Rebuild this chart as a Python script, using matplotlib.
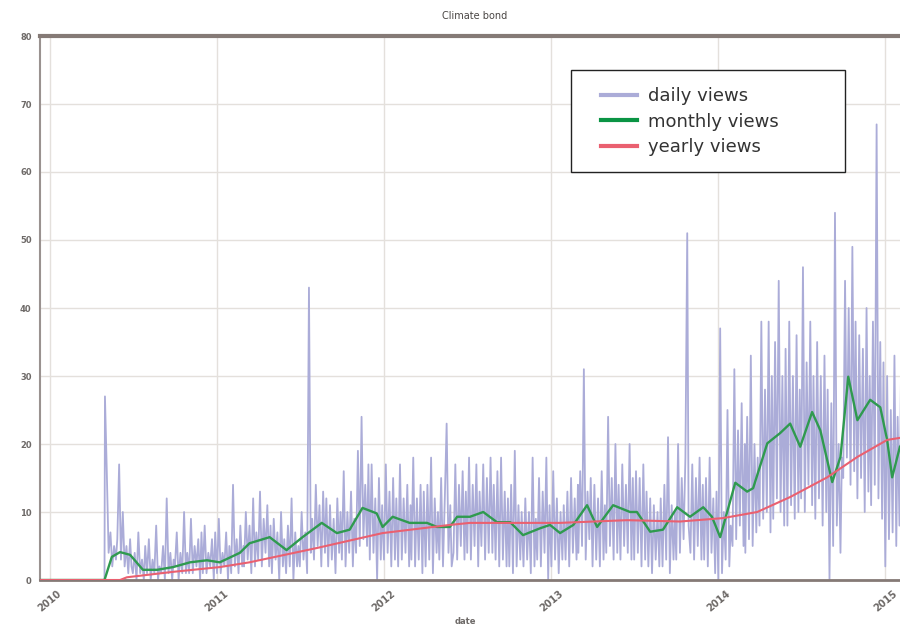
import matplotlib
matplotlib.use("Agg")
import matplotlib.pyplot as plt
import matplotlib.patches as mpatches
import pandas as pd

# ---------------- data ----------------
title = "Climate bond"
x_label = "date"
series_labels = ["daily views", "monthly views", "yearly views"]
year_ticks = ["2010", "2011", "2012", "2013", "2014", "2015"]
y_ticks = [0, 10, 20, 30, 40, 50, 60, 70, 80]

lead_in_dates = ["2009-12-10", "2010-04-30"]
lead_in_values = [0, 0]

sample_days = [1, 5, 9, 13, 17, 21, 25, 28]

daily_2010 = [  # May .. Dec
    [27, 16, 4, 7, 2, 5, 3, 6],
    [17, 3, 10, 2, 5, 1, 6, 2],
    [1, 4, 0, 7, 1, 3, 0, 5],
    [1, 6, 0, 3, 1, 8, 0, 2],
    [1, 5, 0, 12, 1, 4, 0, 3],
    [2, 7, 0, 4, 1, 10, 1, 4],
    [1, 9, 1, 5, 2, 6, 0, 7],
    [1, 8, 1, 4, 2, 6, 0, 7],
]
daily_2011 = [
    [1, 9, 1, 4, 2, 7, 0, 5],
    [1, 14, 2, 6, 1, 8, 2, 5],
    [2, 10, 3, 8, 1, 12, 2, 7],
    [3, 13, 2, 9, 4, 11, 2, 8],
    [1, 9, 3, 7, 0, 10, 2, 6],
    [1, 8, 2, 12, 0, 7, 2, 5],
    [2, 10, 3, 7, 1, 43, 4, 9],
    [3, 14, 5, 11, 2, 13, 4, 12],
    [2, 11, 3, 9, 1, 12, 4, 10],
    [3, 16, 2, 10, 4, 13, 2, 9],
    [4, 19, 5, 24, 6, 14, 5, 17],
    [3, 17, 4, 12, 0, 15, 3, 11],
]
daily_2012 = [
    [3, 17, 4, 13, 2, 15, 3, 12],
    [2, 17, 3, 12, 4, 14, 2, 11],
    [3, 18, 2, 12, 3, 14, 1, 13],
    [2, 14, 3, 18, 1, 12, 4, 10],
    [3, 15, 2, 12, 23, 4, 11, 2],
    [4, 17, 3, 14, 5, 16, 3, 13],
    [4, 18, 3, 14, 5, 17, 2, 13],
    [5, 17, 3, 15, 4, 18, 4, 14],
    [3, 16, 2, 18, 3, 13, 2, 12],
    [2, 14, 1, 19, 2, 11, 3, 10],
    [2, 12, 3, 10, 1, 18, 2, 9],
    [3, 15, 2, 13, 4, 18, 0, 11],
]
daily_2013 = [
    [2, 16, 3, 12, 1, 10, 3, 11],
    [3, 13, 2, 15, 4, 12, 3, 14],
    [4, 16, 5, 31, 3, 13, 6, 15],
    [2, 14, 3, 12, 2, 16, 3, 11],
    [4, 24, 5, 15, 3, 20, 4, 14],
    [3, 17, 5, 14, 4, 20, 3, 15],
    [3, 16, 4, 15, 2, 17, 3, 13],
    [2, 12, 1, 11, 3, 10, 2, 12],
    [2, 14, 3, 21, 1, 11, 3, 10],
    [3, 20, 4, 15, 6, 18, 51, 8],
    [4, 17, 3, 15, 5, 18, 3, 14],
    [3, 15, 2, 18, 4, 12, 1, 13],
]
daily_2014 = [
    [0, 37, 1, 10, 3, 25, 2, 8],
    [5, 31, 6, 22, 8, 26, 5, 20],
    [4, 24, 6, 33, 5, 20, 7, 18],
    [8, 38, 9, 28, 10, 38, 7, 30],
    [9, 35, 12, 44, 10, 30, 8, 34],
    [8, 38, 11, 30, 9, 36, 10, 28],
    [12, 46, 10, 32, 14, 38, 11, 30],
    [9, 35, 12, 30, 8, 33, 10, 28],
    [0, 26, 5, 54, 8, 20, 4, 18],
    [15, 44, 18, 40, 14, 49, 16, 38],
    [12, 36, 15, 34, 10, 40, 13, 30],
    [11, 38, 14, 67, 12, 35, 9, 32],
]
daily_2015 = [
    [2, 30, 6, 25, 7, 33, 5, 24],
    [8, 35, 10, 30],
]

monthly_dates = [
    "2009-12-10", "2010-04-30", "2010-05-16", "2010-06-03", "2010-06-25",
    "2010-07-23", "2010-08-23", "2010-09-27", "2010-11-03", "2010-12-10",
    "2011-01-07", "2011-02-20", "2011-03-13", "2011-04-26", "2011-06-02",
    "2011-07-07", "2011-08-18", "2011-09-20", "2011-10-18", "2011-11-15",
    "2011-12-16", "2011-12-29", "2012-01-20", "2012-02-26", "2012-04-04",
    "2012-04-26", "2012-05-24", "2012-06-09", "2012-07-07", "2012-08-05",
    "2012-09-04", "2012-10-03", "2012-10-31", "2012-12-07", "2012-12-29",
    "2013-01-20", "2013-02-18", "2013-03-20", "2013-04-11", "2013-05-16",
    "2013-06-22", "2013-07-07", "2013-08-05", "2013-09-02", "2013-10-03",
    "2013-10-31", "2013-11-29", "2013-12-18", "2014-01-05", "2014-02-07",
    "2014-03-05", "2014-03-18", "2014-04-18", "2014-05-16", "2014-06-07",
    "2014-06-29", "2014-07-25", "2014-08-12", "2014-09-07", "2014-09-25",
    "2014-10-12", "2014-11-01", "2014-11-29", "2014-12-21", "2015-01-05",
    "2015-01-16", "2015-02-02",
]
monthly_values = [
    0, 0, 3.4, 4.1, 3.7,
    1.5, 1.5, 1.9, 2.6, 2.9,
    2.6, 4.0, 5.4, 6.3, 4.4,
    6.3, 8.4, 6.9, 7.4, 10.6,
    9.8, 7.8, 9.3, 8.4, 8.4,
    7.8, 7.8, 9.3, 9.3, 10.0,
    8.5, 8.5, 6.6, 7.6, 8.1,
    6.9, 8.1, 11.0, 7.8, 11.0,
    10.0, 10.0, 7.1, 7.4, 10.7,
    9.3, 10.7, 9.3, 6.3, 14.3,
    13.0, 13.5, 20.1, 21.6, 23.0,
    19.6, 24.7, 22.0, 14.4, 18.1,
    29.9, 23.5, 26.5, 25.4, 20.6,
    15.1, 19.6,
]

yearly_dates = [
    "2009-12-10", "2010-06-03", "2010-06-18", "2010-09-27", "2011-01-07",
    "2011-03-13", "2011-08-07", "2011-12-29", "2012-05-24", "2012-07-07",
    "2013-01-20", "2013-06-16", "2013-10-09", "2014-01-11", "2014-03-27",
    "2014-06-07", "2014-08-27", "2014-11-01", "2015-01-05", "2015-02-02",
]
yearly_values = [
    0, 0, 0.4, 1.2, 1.9,
    2.6, 4.7, 6.9, 8.1, 8.4,
    8.4, 8.8, 8.6, 9.1, 10.0,
    12.2, 15.1, 18.1, 20.6, 20.9,
]

# ---------------- build daily series ----------------
daily_dates = list(pd.to_datetime(lead_in_dates))
daily_values = list(lead_in_values)
blocks = [(2010, 5, daily_2010), (2011, 1, daily_2011), (2012, 1, daily_2012),
          (2013, 1, daily_2013), (2014, 1, daily_2014), (2015, 1, daily_2015)]
for year, first_month, rows in blocks:
    for i, row in enumerate(rows):
        month = first_month + i
        for d, v in zip(sample_days, row):
            daily_dates.append(pd.Timestamp(year=year, month=month, day=d))
            daily_values.append(v)

# ---------------- styling ----------------
c_daily = "#abacd8"
c_month = "#2f9a4f"
c_year = "#ea6070"
c_tick = "#6e6a68"
c_spine = "#857a76"
c_grid = "#e4e0dc"

fig = plt.figure(figsize=(9.0, 6.28), dpi=100)
ax = fig.add_axes([40 / 900, 1 - 580 / 628, 870 / 900, (580 - 36) / 628])

ax.plot(daily_dates, daily_values, color=c_daily, lw=1.3, zorder=2,
        label=series_labels[0])
ax.plot(pd.to_datetime(monthly_dates), monthly_values, color=c_month, lw=1.7,
        zorder=3, label=series_labels[1])
ax.plot(pd.to_datetime(yearly_dates), yearly_values, color=c_year, lw=1.5,
        zorder=4, label=series_labels[2])

ax.set_xlim(pd.Timestamp("2009-12-10"), pd.Timestamp("2015-02-24"))
ax.set_ylim(y_ticks[0], y_ticks[-1])

ax.set_yticks(y_ticks)
ax.set_yticklabels([str(v) for v in y_ticks])
ax.set_xticks(pd.to_datetime([y + "-01-01" for y in year_ticks]))
ax.set_xticklabels(year_ticks, rotation=40, ha="center")
ax.tick_params(axis="y", length=0, labelsize=6, labelcolor=c_tick, pad=6)
ax.tick_params(axis="x", length=0, labelsize=7, labelcolor=c_tick, pad=6)
for lab in ax.get_xticklabels() + ax.get_yticklabels():
    lab.set_fontweight("bold")

ax.grid(True, color=c_grid, lw=1.0, zorder=0)
ax.set_axisbelow(True)

ax.spines["top"].set_color(c_spine)
ax.spines["top"].set_linewidth(3.0)
ax.spines["left"].set_color("#9a9290")
ax.spines["left"].set_linewidth(1.5)
ax.spines["bottom"].set_color(c_spine)
ax.spines["bottom"].set_linewidth(2.0)
ax.spines["right"].set_visible(False)

ax.set_title(title, fontsize=7, color="#4a4644", pad=12)
fig.text(465 / 900, 1 - 621 / 628, x_label, fontsize=6, color=c_tick,
         ha="center", va="center", fontweight="bold")

# legend box (frame drawn separately so the inner padding matches)
frame = mpatches.Rectangle((571 / 900, 1 - 172 / 628), 274 / 900, 102 / 628,
                           transform=fig.transFigure, facecolor="white",
                           edgecolor="#222222", lw=1.0, zorder=5)
ax.add_patch(frame)

leg = ax.legend(loc="upper left", bbox_to_anchor=(601 / 900, 1 - 87 / 628),
                bbox_transform=fig.transFigure, fontsize=13, frameon=False,
                handlelength=2.0, handletextpad=0.6, borderpad=0.0,
                labelspacing=0.42, borderaxespad=0)
leg.set_zorder(6)
for line in leg.get_lines():
    line.set_linewidth(3.0)
leg.get_lines()[1].set_color("#0a9444")
for t in leg.get_texts():
    t.set_color("#333333")

fig.savefig("out.png", dpi=100)
